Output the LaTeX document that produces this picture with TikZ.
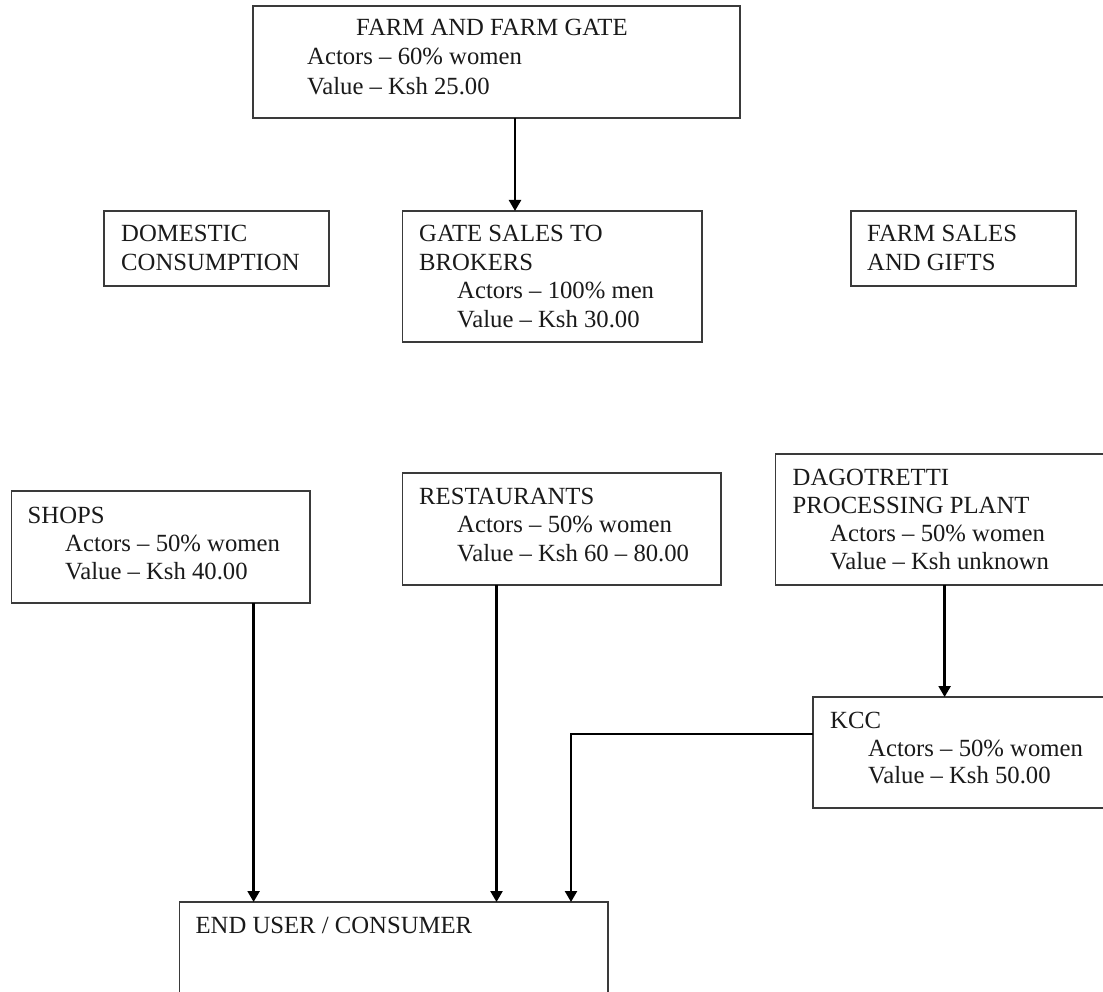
\documentclass[tikz,border=0pt]{standalone}
\usepackage{fontspec}
\setmainfont{Liberation Serif}
\usetikzlibrary{arrows.meta}
\definecolor{boxline}{HTML}{3A3A3A}
\definecolor{ink}{HTML}{1A1A1A}
\tikzset{
  box/.style={draw=boxline, line width=1.5pt, inner sep=0pt, outer sep=0pt, anchor=north west, fill=none},
  txt/.style={anchor=base west, inner sep=0pt, text=ink, font=\fontsize{24.7pt}{28.5pt}\selectfont},
  arr/.style={line width=2.4pt, draw=black, -{Triangle[width=12pt,length=11pt]}}
}
\begin{document}
\begin{tikzpicture}[x=1pt,y=-1pt]
\useasboundingbox (0,0) rectangle (1103,992);
\clip (0,0) rectangle (1103,992);
\fill[white] (0,0) rectangle (1103,992);

% boxes
\node[box, minimum width=487pt, minimum height=112pt] (farm) at (253,6) {};
\node[box, minimum width=225pt, minimum height=75pt] (domestic) at (104,211) {};
\node[box, minimum width=299.5pt, minimum height=131pt] (gate) at (402.5,211) {};
\node[box, minimum width=225pt, minimum height=75pt] (farmsales) at (851,211) {};
\node[box, minimum width=298.4pt, minimum height=112pt] (shops) at (11.6,491) {};
\node[box, minimum width=318.5pt, minimum height=112pt] (rest) at (402.5,473) {};
\node[box, minimum width=344.4pt, minimum height=131pt] (dago) at (775.6,454) {};
\node[box, minimum width=307pt, minimum height=111pt] (kcc) at (813,697) {};
\node[box, minimum width=428.4pt, minimum height=120pt] (enduser) at (179.6,902) {};

% texts
\node[txt] (t1a) at (356,36) {FARM AND FARM GATE};
\node[txt] (t1b) at (307,65) {Actors – 60\% women};
\node[txt] (t1c) at (307,95) {Value – Ksh 25.00};

\node[txt] (t2a) at (121,242) {DOMESTIC};
\node[txt] (t2b) at (121,271) {CONSUMPTION};

\node[txt] (t3a) at (419,242) {GATE SALES TO};
\node[txt] (t3b) at (419,271) {BROKERS};
\node[txt] (t3c) at (457,299) {Actors – 100\% men};
\node[txt] (t3d) at (457,327) {Value – Ksh 30.00};

\node[txt] (t4a) at (867,242) {FARM SALES};
\node[txt] (t4b) at (867,271) {AND GIFTS};

\node[txt] (t5a) at (27.5,523) {SHOPS};
\node[txt] (t5b) at (65,551) {Actors – 50\% women};
\node[txt] (t5c) at (65,579) {Value – Ksh 40.00};

\node[txt] (t6a) at (419,504) {RESTAURANTS};
\node[txt] (t6b) at (457,532) {Actors – 50\% women};
\node[txt] (t6c) at (457,561) {Value – Ksh 60 – 80.00};

\node[txt] (t7a) at (792.5,485) {DAGOTRETTI};
\node[txt] (t7b) at (792.5,513) {PROCESSING PLANT};
\node[txt] (t7c) at (830,541) {Actors – 50\% women};
\node[txt] (t7d) at (830,569) {Value – Ksh unknown};

\node[txt] (t8a) at (830,728) {KCC};
\node[txt] (t8b) at (868,756) {Actors – 50\% women};
\node[txt] (t8c) at (868,783) {Value – Ksh 50.00};

\node[txt] (t9a) at (195.4,933) {END USER / CONSUMER};

% connectors
\draw[arr] ([xshift=262pt]farm.south west) -- ([xshift=262pt]farm.south west |- gate.north);
\draw[arr] ([xshift=242pt]shops.south west) -- ([xshift=242pt]shops.south west |- enduser.north);
\draw[arr] ([xshift=94pt]rest.south west) -- ([xshift=94pt]rest.south west |- enduser.north);
\draw[arr] ([xshift=169pt]dago.south west) -- ([xshift=169pt]dago.south west |- kcc.north);
\draw[arr] ([yshift=-37pt]kcc.north west) -| ([xshift=391.4pt]enduser.north west);
\end{tikzpicture}
\end{document}
